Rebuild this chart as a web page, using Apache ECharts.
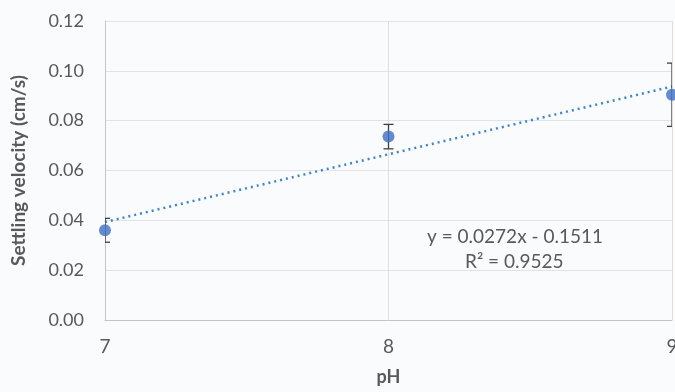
<!DOCTYPE html>
<html><head><meta charset="utf-8">
<script src="https://cdn.jsdelivr.net/npm/echarts@6/dist/echarts.min.js"></script>
<style>html,body{margin:0;padding:0;background:#fafbfd;}#c{width:675px;height:392px;}</style>
</head><body><div id="c"></div>
<script>
const phValues = [7, 8, 9];
const velocity = [0.036, 0.0736, 0.0904];
const errorMargin = [0.0048, 0.0049, 0.0127];
const slope = 0.0272, intercept = -0.1511;
const trendX = [7, 9];
const yTicks = [0, 0.02, 0.04, 0.06, 0.08, 0.10, 0.12];
const equationText = 'y = 0.0272x - 0.1511';
const r2Text = 'R² = 0.9525';

const font = 'Lato, "Open Sans", sans-serif';
const chart = echarts.init(document.getElementById('c'));
const trendData = trendX.map(x => [x, slope * x + intercept]);
const errData = phValues.map((x, i) => [x, velocity[i] - errorMargin[i], velocity[i] + errorMargin[i]]);

chart.setOption({
  backgroundColor: '#fafbfd',
  animation: false,
  grid: {left: 105, right: 3, top: 21, bottom: 72, outerBoundsMode: 'none', containLabel: false},
  xAxis: {
    type: 'value', min: 7, max: 9, interval: 1,
    name: 'pH', nameLocation: 'middle', nameGap: 48,
    nameTextStyle: {fontFamily: font, fontWeight: 'bold', fontSize: 18, color: '#595959'},
    axisLine: {show: true, lineStyle: {color: '#bfc6cf'}},
    axisTick: {show: false},
    axisLabel: {fontFamily: font, fontSize: 19, color: '#595959', margin: 17},
    splitLine: {show: true, lineStyle: {color: '#e6dcd8'}}
  },
  yAxis: {
    type: 'value', min: 0, max: 0.12, interval: 0.02,
    name: 'Settling velocity (cm/s)', nameLocation: 'middle', nameGap: 77,
    nameTextStyle: {fontFamily: font, fontWeight: 'bold', fontSize: 19, color: '#595959'},
    axisLine: {show: true, lineStyle: {color: '#bfc6cf'}},
    axisTick: {show: false},
    axisLabel: {fontFamily: font, fontSize: 18, color: '#595959', margin: 21,
      formatter: v => v.toFixed(2)},
    splitLine: {show: true, lineStyle: {color: '#dfe4ea'}}
  },
  series: [
    {
      type: 'line', data: trendData, symbol: 'none',
      lineStyle: {color: '#3d85c6', width: 2.5, type: [2, 4]}, z: 2
    },
    {
      type: 'custom', data: errData, z: 3, clip: true,
      renderItem: function (params, api) {
        const x = api.value(0);
        const lo = api.coord([x, api.value(1)]);
        const hi = api.coord([x, api.value(2)]);
        const w = 5;
        const style = {stroke: '#404040', lineWidth: 1.3, fill: null};
        return {type: 'group', children: [
          {type: 'line', shape: {x1: lo[0], y1: lo[1], x2: hi[0], y2: hi[1]}, style: style},
          {type: 'line', shape: {x1: lo[0] - w, y1: lo[1], x2: lo[0] + w, y2: lo[1]}, style: style},
          {type: 'line', shape: {x1: hi[0] - w, y1: hi[1], x2: hi[0] + w, y2: hi[1]}, style: style}
        ]};
      }
    },
    {
      type: 'scatter', data: phValues.map((x, i) => [x, velocity[i]]),
      symbolSize: 12, itemStyle: {color: '#3f6fc4'}, z: 4
    }
  ],
  graphic: [
    {type: 'text', left: 427, top: 227, style: {text: equationText, font: '19px ' + font, fill: '#595959'}},
    {type: 'text', left: 465, top: 252, style: {text: r2Text, font: '19px ' + font, fill: '#595959'}}
  ]
});
</script></body></html>
